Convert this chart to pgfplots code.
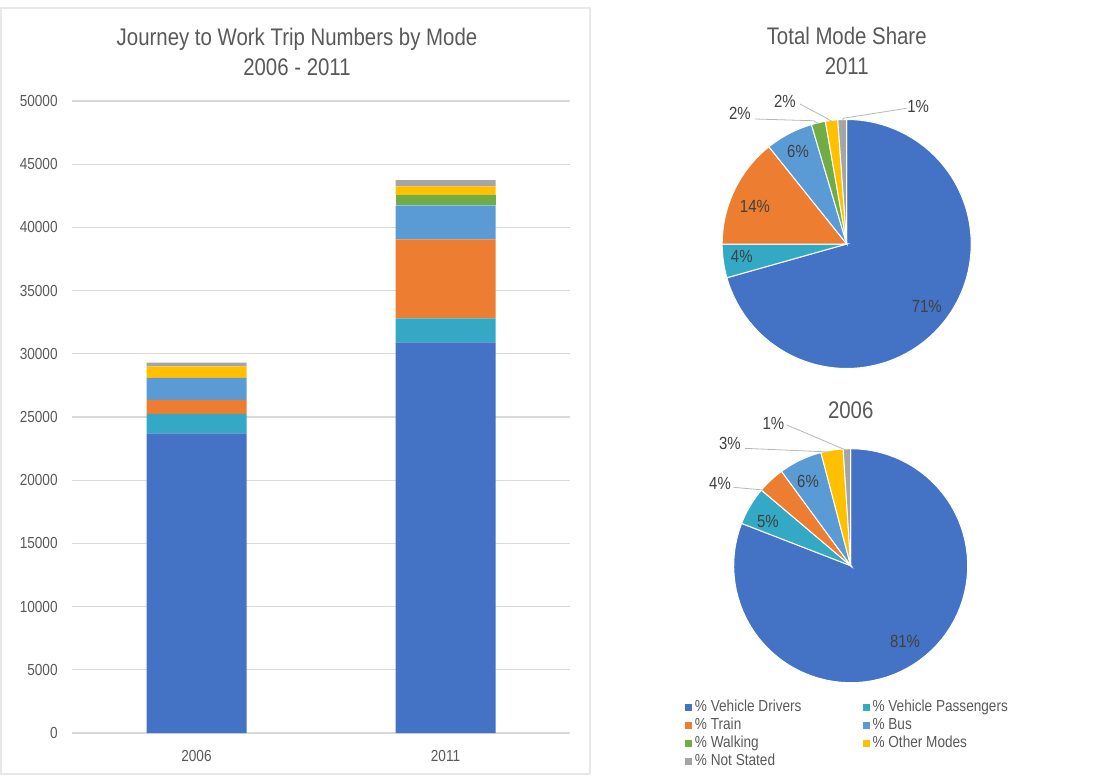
\documentclass[border=0pt]{standalone}
\usepackage{fontspec}
\setmainfont{Liberation Sans}[FakeStretch=0.85]
\usepackage{pgfplots}
\pgfplotsset{compat=1.18}
\definecolor{cDrv}{HTML}{4472C4}
\definecolor{cPas}{HTML}{33A9C6}
\definecolor{cTrn}{HTML}{ED7D31}
\definecolor{cBus}{HTML}{5B9BD5}
\definecolor{cWlk}{HTML}{70AD47}
\definecolor{cOth}{HTML}{FFC000}
\definecolor{cNs}{HTML}{A5A5A5}
\definecolor{txt}{HTML}{595959}
\definecolor{lab}{HTML}{404040}
\definecolor{gridc}{HTML}{D9D9D9}
% cumulative pie angles (clockwise from 12 o'clock), 2011: total 43750
\edef\Ba{90}
\edef\Bb{\fpeval{round(\Ba-360*30900/43750,3)}}
\edef\Bc{\fpeval{round(\Bb-360*1900/43750,3)}}
\edef\Bd{\fpeval{round(\Bc-360*6250/43750,3)}}
\edef\Be{\fpeval{round(\Bd-360*2700/43750,3)}}
\edef\Bf{\fpeval{round(\Be-360*800/43750,3)}}
\edef\Bg{\fpeval{round(\Bf-360*700/43750,3)}}
\edef\Bh{\fpeval{round(\Bg-360*500/43750,3)}}
% 2006: total 29300
\edef\Aa{90}
\edef\Ab{\fpeval{round(\Aa-360*23700/29300,3)}}
\edef\Ac{\fpeval{round(\Ab-360*1550/29300,3)}}
\edef\Ad{\fpeval{round(\Ac-360*1100/29300,3)}}
\edef\Ae{\fpeval{round(\Ad-360*1750/29300,3)}}
\edef\Af{\fpeval{round(\Ae-360*0/29300,3)}}
\edef\Ag{\fpeval{round(\Af-360*900/29300,3)}}
\edef\Ah{\fpeval{round(\Ag-360*300/29300,3)}}
\newcommand\slice[3]{\addplot[forget plot, fill=#1, draw=white, line width=0.5pt, domain=#3:#2, samples=80, variable=\t] ({cos(\t)},{sin(\t)}) -- (0,0) -- cycle;}
\tikzset{leader/.style={draw=cNs!80, line width=0.4pt},
 plab/.style={font=\fontsize{8.8}{10}\selectfont, text=lab}}
\begin{document}
\begin{tikzpicture}
\useasboundingbox (0,0) rectangle (548.5pt,388pt);
\draw[gray!18, line width=0.6pt] (0.5pt,1pt) rectangle (295pt,384pt);
% ---------------- bar chart
\begin{axis}[
 at={(36pt,21.5pt)}, anchor=south west, scale only axis,
 width=249pt, height=316pt,
 ybar stacked, bar width=50pt,
 xmin=-0.5, xmax=1.5, ymin=0, ymax=50000, enlargelimits=false,
 xtick={0,1}, xticklabels={2006,2011},
 ytick={0,5000,...,50000},
 axis line style={draw=none}, major tick length=0pt,
 ymajorgrids, grid style={draw=gridc, line width=0.6pt},
 tick label style={font=\fontsize{8}{9}\selectfont, text=txt},
 yticklabel style={inner sep=0pt, xshift=-7pt},
 xticklabel style={inner sep=0pt, yshift=-8.5pt},
 /pgf/number format/assume math mode=true,
 /pgf/number format/1000 sep={},
 scaled y ticks=false,
 title={Journey to Work Trip Numbers by Mode\\2006 - 2011},
 title style={align=center, font=\fontsize{12}{15}\selectfont, text=txt,
   inner sep=0pt, anchor=south, at={(0.5,1)}, xshift=-12pt, yshift=6.5pt},
]
\addplot[fill=cDrv, draw=none] coordinates {(0,23700) (1,30900)};
\addplot[fill=cPas, draw=none] coordinates {(0,1550) (1,1900)};
\addplot[fill=cTrn, draw=none] coordinates {(0,1100) (1,6250)};
\addplot[fill=cBus, draw=none] coordinates {(0,1750) (1,2700)};
\addplot[fill=cWlk, draw=none] coordinates {(0,0) (1,800)};
\addplot[fill=cOth, draw=none] coordinates {(0,900) (1,700)};
\addplot[fill=cNs, draw=none] coordinates {(0,300) (1,500)};
\end{axis}
% ---------------- pie 2011
\begin{axis}[
 at={(423.35pt,266pt)}, anchor=center, scale only axis,
 width=124.5pt, height=124.5pt, xmin=-1, xmax=1, ymin=-1, ymax=1,
 hide axis, clip=false,
 title={Total Mode Share\\2011},
 title style={align=center, font=\fontsize{12}{15}\selectfont, text=txt,
   inner sep=0pt, anchor=south, at={(0.5,1)}, yshift=16pt},
]
\slice{cDrv}{\Ba}{\Bb}
\slice{cPas}{\Bb}{\Bc}
\slice{cTrn}{\Bc}{\Bd}
\slice{cBus}{\Bd}{\Be}
\slice{cWlk}{\Be}{\Bf}
\slice{cOth}{\Bf}{\Bg}
\slice{cNs}{\Bg}{\Bh}
\node[plab] at (axis cs:0.643,-0.504) {71\%};
\node[plab] at (axis cs:-0.843,-0.10) {4\%};
\node[plab] at (axis cs:-0.737,0.30) {14\%};
\node[plab] at (axis cs:-0.391,0.741) {6\%};
\draw[leader] (axis cs:-0.737,1.004) -- (axis cs:-0.268,0.99) -- (axis cs:-0.225,0.965);
\node[plab] at (axis cs:-0.858,1.052) {2\%};
\draw[leader] (axis cs:-0.375,1.124) -- (axis cs:-0.161,1.01) -- (axis cs:-0.12,0.985);
\node[plab] at (axis cs:-0.496,1.143) {2\%};
\draw[leader] (axis cs:0.482,1.09) -- (axis cs:-0.027,1.01) -- (axis cs:-0.035,0.99);
\node[plab] at (axis cs:0.574,1.103) {1\%};
\end{axis}
% ---------------- pie 2006
\begin{axis}[
 at={(425.35pt,105.15pt)}, anchor=center, scale only axis,
 width=117pt, height=117pt, xmin=-1, xmax=1, ymin=-1, ymax=1,
 hide axis, clip=false,
 title={2006},
 title style={font=\fontsize{12}{15}\selectfont, text=txt,
   inner sep=0pt, anchor=south, at={(0.5,1)}, yshift=8.6pt},
 legend columns=2, legend cell align=left,
 legend image code/.code={\path[#1, draw=none] (0pt,-1.75pt) rectangle (3.5pt,1.75pt);},
 legend style={at={(-0.21,-0.0654)}, anchor=north west, draw=none, fill=none,
   inner sep=0pt, font=\fontsize{8}{9}\selectfont, text=txt,
   row sep=0pt, nodes={text height=6pt, text depth=1.5pt, inner ysep=0.75pt, inner xsep=1.5pt},
   /tikz/every even column/.append style={column sep=29pt}},
]
\slice{cDrv}{\Aa}{\Ab}
\slice{cPas}{\Ab}{\Ac}
\slice{cTrn}{\Ac}{\Ad}
\slice{cBus}{\Ad}{\Ae}
\slice{cOth}{\Af}{\Ag}
\slice{cNs}{\Ag}{\Ah}
\node[plab] at (axis cs:0.464,-0.65) {81\%};
\node[plab] at (axis cs:-0.707,0.376) {5\%};
\node[plab] at (axis cs:-0.365,0.718) {6\%};
\draw[leader] (axis cs:-1.003,0.67) -- (axis cs:-0.747,0.647);
\node[plab] at (axis cs:-1.117,0.707) {4\%};
\draw[leader] (axis cs:-0.903,1.003) -- (axis cs:-0.234,0.974) -- (axis cs:-0.18,0.97);
\node[plab] at (axis cs:-1.032,1.049) {3\%};
\draw[leader] (axis cs:-0.547,1.203) -- (axis cs:-0.043,0.989);
\node[plab] at (axis cs:-0.661,1.217) {1\%};
\addlegendimage{fill=cDrv}
\addlegendimage{fill=cPas}
\addlegendimage{fill=cTrn}
\addlegendimage{fill=cBus}
\addlegendimage{fill=cWlk}
\addlegendimage{fill=cOth}
\addlegendimage{fill=cNs}
\legend{\% Vehicle Drivers, \% Vehicle Passengers, \% Train, \% Bus, \% Walking, \% Other Modes, \% Not Stated}
\end{axis}
\end{tikzpicture}
\end{document}
